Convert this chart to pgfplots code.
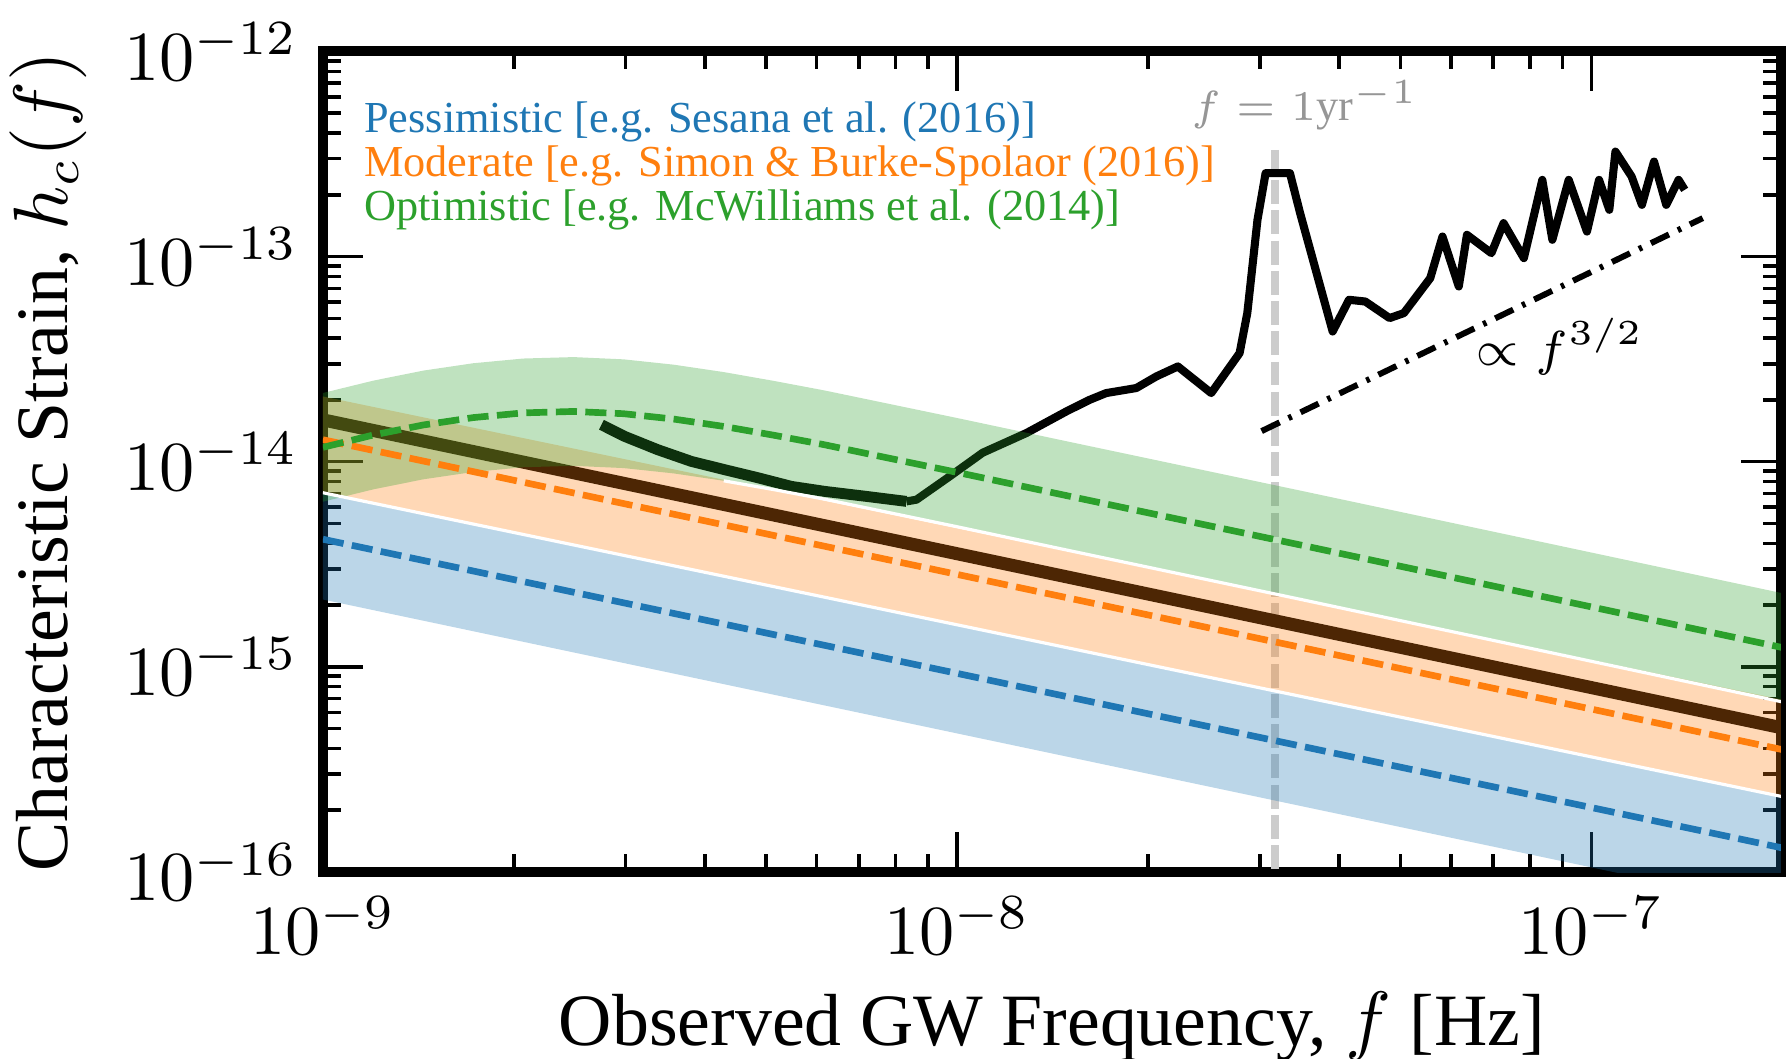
\documentclass[border=0pt]{standalone}
\usepackage{fontspec}
\setmainfont{Liberation Serif}
\usepackage{pgfplots}
\pgfplotsset{compat=1.18}
\definecolor{tabblue}{HTML}{1F77B4}
\definecolor{taborange}{HTML}{FF7F0E}
\definecolor{tabgreen}{HTML}{2CA02C}
\definecolor{lightgrey}{RGB}{204,204,204}
\definecolor{textgrey}{RGB}{150,150,150}

\begin{document}
\begin{tikzpicture}
\useasboundingbox (0,0) rectangle (89.4mm,52.95mm);
\begin{axis}[
    at={(16.15mm,9.35mm)}, anchor=south west,
    scale only axis, width=72.9mm, height=41.03mm,
    xmode=log, ymode=log,
    xmin=1e-9, xmax=1.99e-7, ymin=1e-16, ymax=1e-12,
    xtick={1e-9,1e-8,1e-7}, ytick={1e-16,1e-15,1e-14,1e-13,1e-12},
    tick align=inside,
    major tick length=2mm, minor tick length=0.9mm,
    tick style={black, line width=0.5pt},
    axis line style={line width=1.4pt},
    tick label style={font=\fontsize{10}{12}\selectfont},
    label style={font=\fontsize{10.5}{12.5}\selectfont},
    xlabel={Observed GW Frequency, $f$ [Hz]},
    ylabel={Characteristic Strain, $h_c(f)$},
    xlabel style={at={(axis description cs:0.5,-0.212)}, anchor=base},
    ylabel style={at={(axis description cs:-0.1886,0.5)}, anchor=center},
]
% f = 1/yr
\addplot[lightgrey, line width=1pt, dash pattern=on 3.4pt off 0.9pt] coordinates {(3.17e-8,3.31e-13) (3.17e-8,1e-16)};

% median and sensitivity curve (sit under the bands)
\addplot[black, line width=1.85pt] coordinates {(1e-9,1.60e-14) (2e-7,5.04e-16)};
\addplot[black, line width=1.55pt, line join=round] coordinates {
 (2.749e-9,1.514e-14) (2.992e-9,1.328e-14) (3.373e-9,1.144e-14) (3.812e-9,1.003e-14)
 (4.301e-9,9.14e-15) (4.849e-9,8.356e-15) (5.479e-9,7.58e-15) (6.183e-9,7.167e-15)
 (7.193e-9,6.776e-15) (8.318e-9,6.406e-15)};
\addplot[black, line width=1.15pt, line join=round] coordinates {
 (8.318e-9,6.406e-15) (8.626e-9,6.530e-15) (9.732e-9,8.481e-15) (1.097e-8,1.106e-14)
 (1.286e-8,1.380e-14) (1.486e-8,1.758e-14) (1.618e-8,2.004e-14) (1.718e-8,2.161e-14)
 (1.916e-8,2.286e-14) (2.060e-8,2.603e-14) (2.228e-8,2.913e-14) (2.515e-8,2.161e-14)
 (2.788e-8,3.385e-14) (2.867e-8,5.303e-14) (2.975e-8,1.510e-13) (3.064e-8,2.551e-13)
 (3.347e-8,2.551e-13) (3.473e-8,1.628e-13) (3.909e-8,4.313e-14) (4.147e-8,6.156e-14)
 (4.399e-8,6.039e-14) (4.806e-8,5.013e-14) (5.062e-8,5.303e-14) (5.570e-8,7.852e-14)
 (5.823e-8,1.252e-13) (6.178e-8,7.147e-14) (6.364e-8,1.276e-13) (6.955e-8,1.039e-13)
 (7.269e-8,1.455e-13) (7.825e-8,9.826e-14) (8.366e-8,2.365e-13) (8.677e-8,1.207e-13)
 (9.208e-8,2.365e-13) (9.838e-8,1.324e-13) (1.028e-7,2.365e-13) (1.067e-7,1.690e-13)
 (1.091e-7,3.249e-13) (1.157e-7,2.455e-13) (1.201e-7,1.787e-13) (1.255e-7,2.905e-13)
 (1.312e-7,1.787e-13) (1.372e-7,2.365e-13) (1.403e-7,2.115e-13)};

% bands
\addplot[fill=tabblue, fill opacity=0.3, draw=none] coordinates {
 (1e-9,7.06e-15) (2e-7,2.33e-16) (2e-7,6.7e-17) (1e-9,2.13e-15)} -- cycle;
\addplot[fill=taborange, fill opacity=0.3, draw=none] coordinates {
 (1e-9,2.08e-14) (2e-7,6.92e-16) (2e-7,2.33e-16) (1e-9,7.06e-15)} -- cycle;
\addplot[fill=tabgreen, fill opacity=0.3, draw=none] coordinates {
 (1e-9,2.163e-14) (1.2e-9,2.483e-14) (1.439e-9,2.780e-14) (1.726e-9,3.020e-14)
 (2.070e-9,3.184e-14) (2.483e-9,3.236e-14) (2.979e-9,3.155e-14) (3.573e-9,2.972e-14)
 (4.285e-9,2.735e-14) (5.140e-9,2.477e-14) (6.166e-9,2.228e-14) (1e-8,1.633e-14)
 (1.486e-8,1.259e-14) (3.467e-8,7.244e-15) (2e-7,2.286e-15)
 (2e-7,6.745e-16) (3.467e-8,2.138e-15) (1.486e-8,3.715e-15) (1e-8,4.819e-15)
 (6.166e-9,6.577e-15) (5.140e-9,7.311e-15) (4.285e-9,8.072e-15) (3.573e-9,8.770e-15)
 (2.979e-9,9.311e-15) (2.483e-9,9.550e-15) (2.070e-9,9.397e-15) (1.726e-9,8.913e-15)
 (1.439e-9,8.204e-15) (1.2e-9,7.328e-15) (1e-9,6.383e-15)} -- cycle;

% white band edges
\addplot[white, line width=0.45pt] coordinates {(1e-9,7.06e-15) (2e-7,2.33e-16)};
\addplot[white, line width=0.45pt] coordinates {
 (4.285e-9,8.072e-15) (5.140e-9,7.311e-15) (6.166e-9,6.577e-15) (1e-8,4.819e-15)
 (1.486e-8,3.715e-15) (3.467e-8,2.138e-15) (2e-7,6.745e-16)};

% model medians
\addplot[tabblue, line width=0.95pt, dash pattern=on 3pt off 1.2pt] coordinates {(1e-9,4.19e-15) (2e-7,1.31e-16)};
\addplot[taborange, line width=0.95pt, dash pattern=on 3pt off 1.2pt] coordinates {(1e-9,1.28e-14) (2e-7,3.95e-16)};
\addplot[tabgreen, line width=0.95pt, dash pattern=on 3pt off 1.2pt] coordinates {
 (1e-9,1.175e-14) (1.2e-9,1.349e-14) (1.439e-9,1.510e-14) (1.726e-9,1.641e-14)
 (2.070e-9,1.730e-14) (2.483e-9,1.758e-14) (2.979e-9,1.714e-14) (3.573e-9,1.614e-14)
 (4.285e-9,1.486e-14) (5.140e-9,1.346e-14) (6.166e-9,1.211e-14) (1e-8,8.872e-15)
 (1.486e-8,6.839e-15) (3.467e-8,3.936e-15) (2e-7,1.242e-15)};

% f^{3/2} slope
\addplot[black, line width=0.85pt, dash pattern=on 2.85pt off 1.4pt on 0.5pt off 1.4pt] coordinates {(3.02e-8,1.41e-14) (1.498e-7,1.539e-13)};

\node[anchor=base west, inner sep=0pt, text=tabblue, font=\fontsize{6.3}{7.5}\selectfont] at (rel axis cs:0.0274,0.9007) {Pessimistic [e.g. Sesana et al. (2016)]};
\node[anchor=base west, inner sep=0pt, text=taborange, font=\fontsize{6.3}{7.5}\selectfont] at (rel axis cs:0.0274,0.847) {Moderate [e.g. Simon \& Burke-Spolaor (2016)]};
\node[anchor=base west, inner sep=0pt, text=tabgreen, font=\fontsize{6.3}{7.5}\selectfont] at (rel axis cs:0.0274,0.7934) {Optimistic [e.g. McWilliams et al. (2014)]};
\node[text=textgrey, font=\fontsize{6.3}{7.5}\selectfont] at (rel axis cs:0.6735,0.9348) {$f = 1\mathrm{yr}^{-1}$};
\node[font=\fontsize{6.8}{8}\selectfont] at (rel axis cs:0.8484,0.6398) {$\propto f^{3/2}$};
\end{axis}
\end{tikzpicture}
\end{document}
